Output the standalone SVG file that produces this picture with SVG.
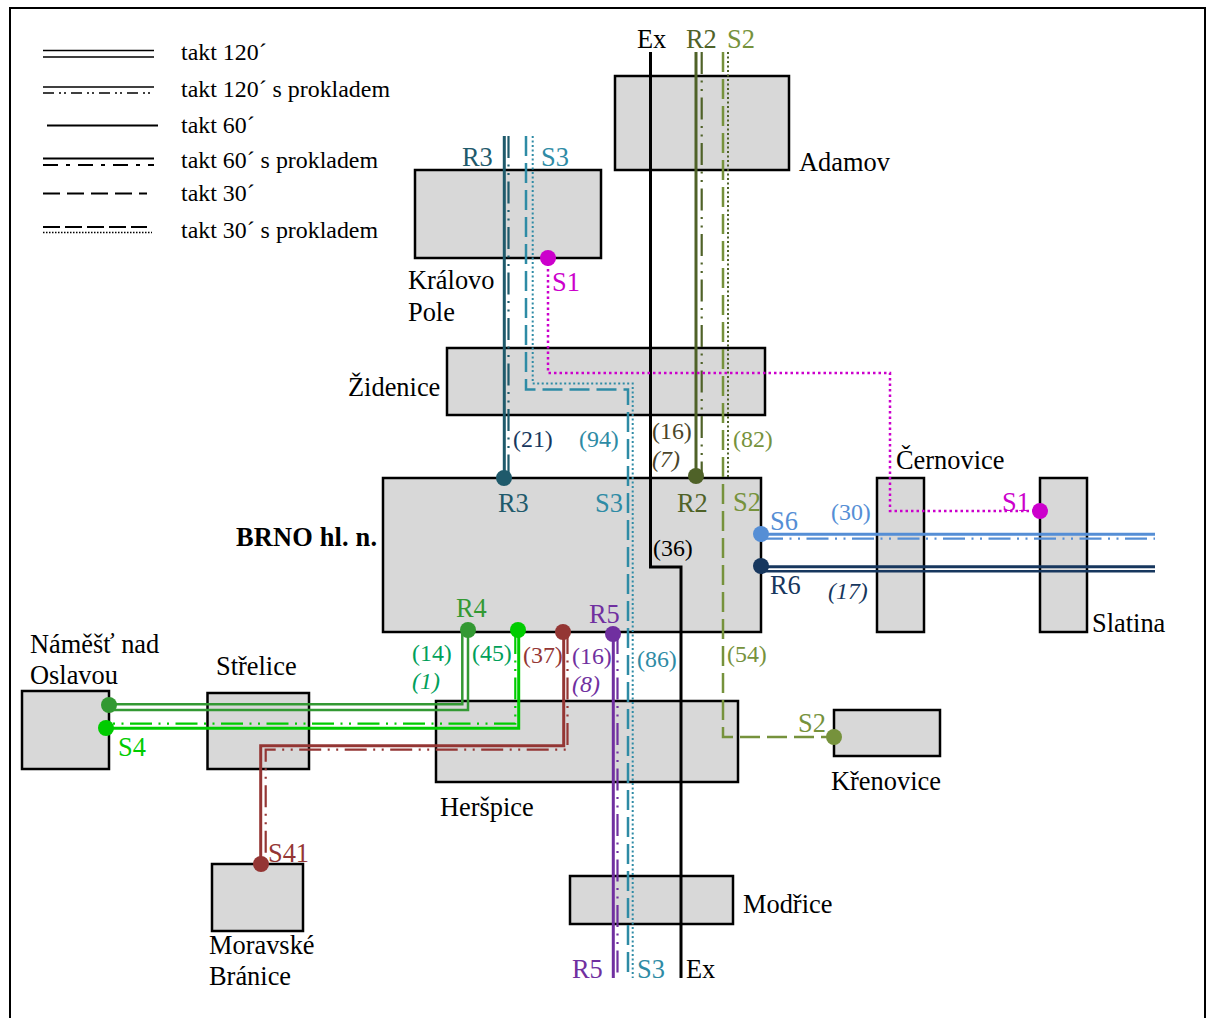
<svg xmlns="http://www.w3.org/2000/svg" width="1207" height="1018" viewBox="0 0 1207 1018">
<style>
text{font-family:"Liberation Serif","Times New Roman",serif;font-size:26.400px}
.lg,.n{font-size:23.900px}
.i{font-style:italic}
.box{fill:#d8d8d8;stroke:#000;stroke-width:2.500}
.l{fill:none}
.s{stroke-width:3}
.t{stroke-width:2.500}
.da{stroke-width:2.500;stroke-dasharray:20 7}
.dd{stroke-width:2.200;stroke-dasharray:22 6.500 2 6.500 2 6.500}
.dot{stroke-width:2;stroke-dasharray:2 2.500}
.k{stroke:#000}.r3{stroke:#1f5a6b}.s3{stroke:#2e8ba5}.r2{stroke:#4f6228}.s2{stroke:#76923c}.s1{stroke:#cc00cc;stroke-width:2.500;stroke-dasharray:2.500 3}.s6{stroke:#558ed5}.r6{stroke:#17375e}.r4{stroke:#339933}.s4{stroke:#00cc00}.s41{stroke:#943634}.r5{stroke:#7030a0}
</style>
<rect id="frame" x="10" y="8" width="1195" height="1020" fill="#fff" stroke="#000" stroke-width="2"/>
<g id="node-adamov"><rect class="box" x="615" y="76" width="174" height="94"/><text x="799" y="171">Adamov</text></g>
<g id="node-kralovo-pole"><rect class="box" x="415" y="170" width="186" height="88"/><text x="408" y="289">Královo</text><text x="408" y="321">Pole</text></g>
<g id="node-zidenice"><rect class="box" x="447" y="348" width="318" height="67"/><text x="348" y="396">Židenice</text></g>
<g id="node-brno"><rect class="box" x="383" y="478" width="378" height="154"/><text x="236" y="546" font-weight="bold" textLength="141">BRNO hl. n.</text></g>
<g id="node-cernovice"><rect class="box" x="877" y="478" width="47" height="154"/><text x="896" y="469">Černovice</text></g>
<g id="node-slatina"><rect class="box" x="1040" y="478" width="47" height="154"/><text x="1092" y="632">Slatina</text></g>
<g id="node-namest"><rect class="box" x="22" y="691" width="87" height="78"/><text x="30" y="653">Náměšť nad</text><text x="30" y="684">Oslavou</text></g>
<g id="node-strelice"><rect class="box" x="207.500" y="693" width="101.500" height="76"/><text x="216" y="675">Střelice</text></g>
<g id="node-herspice"><rect class="box" x="436" y="701" width="302" height="81"/><text x="440" y="816">Heršpice</text></g>
<g id="node-krenovice"><rect class="box" x="834" y="710" width="106" height="46"/><text x="831" y="790">Křenovice</text></g>
<g id="node-modrice"><rect class="box" x="570" y="876" width="163" height="48"/><text x="743" y="913">Modřice</text></g>
<g id="node-moravske"><rect class="box" x="212" y="864" width="91" height="67"/><text x="209" y="954">Moravské</text><text x="209" y="985">Bránice</text></g>

<g id="connectors">
<path class="l s k" d="M650.500 52V567H681V978"/>
<path class="l s r2" d="M696 52V478"/>
<path class="l dd r2" d="M701.700 52V478"/>
<path class="l da s2" d="M723 52V737H834"/>
<path class="l dot r2" d="M728 52V478"/>
<path class="l s r3" d="M504.300 136V478"/>
<path class="l dd r3" d="M508.500 136V478"/>
<path class="l da s3" d="M526 136V389.500H628V978"/>
<path class="l dot s3" d="M532.700 136V383.500H632.700V978"/>
<path class="l s1" d="M548 258V373H890V511H1040"/>
<path class="l s s6" d="M761 534.300H1155"/>
<path class="l dd s6" d="M761 538.700H1155"/>
<path class="l s r6" d="M761 566.700H1155"/>
<path class="l t r6" d="M761 571.300H1155"/>
<path class="l t r4" d="M462.300 632V704.300H109"/>
<path class="l t r4" d="M468 632V710H109"/>
<path class="l dd s4" d="M515.300 632V723.700H106"/>
<path class="l s s4" d="M518.700 632V728.300H106"/>
<path class="l s s41" d="M563.700 632V745.800H260.700V864"/>
<path class="l dd s41" d="M567.500 632V749.700H265.700V864"/>
<path class="l s r5" d="M613.300 632V978"/>
<path class="l dd r5" d="M617.500 632V978"/>
</g>

<g id="stops">
<circle cx="504" cy="478" r="8" fill="#1f5a6b"/>
<circle cx="696" cy="476" r="8" fill="#4f6228"/>
<circle cx="548" cy="258" r="8" fill="#cc00cc"/>
<circle cx="1040" cy="511" r="8" fill="#cc00cc"/>
<circle cx="761" cy="534" r="8" fill="#558ed5"/>
<circle cx="761" cy="566" r="8" fill="#17375e"/>
<circle cx="468" cy="630" r="8" fill="#339933"/>
<circle cx="518" cy="630" r="8" fill="#00cc00"/>
<circle cx="563" cy="632" r="8" fill="#943634"/>
<circle cx="613" cy="634" r="8" fill="#7030a0"/>
<circle cx="109" cy="705" r="8" fill="#339933"/>
<circle cx="106" cy="728" r="8" fill="#00cc00"/>
<circle cx="261" cy="864" r="8" fill="#943634"/>
<circle cx="834" cy="737" r="8" fill="#76923c"/>
</g>

<g id="line-labels">
<text x="637" y="48">Ex</text>
<text x="686" y="48" fill="#4f6228">R2</text>
<text x="727" y="48" fill="#76923c">S2</text>
<text x="462" y="166" fill="#1f5a6b">R3</text>
<text x="541" y="166" fill="#2e8ba5">S3</text>
<text x="552" y="291" fill="#cc00cc">S1</text>
<text class="n" x="513" y="447" fill="#17375e">(21)</text>
<text class="n" x="579" y="447" fill="#2e8ba5">(94)</text>
<text class="n" x="652" y="439" fill="#4a452a">(16)</text>
<text class="n i" x="652" y="467" fill="#4a452a">(7)</text>
<text class="n" x="733" y="447" fill="#76923c">(82)</text>
<text x="498" y="512" fill="#1f5a6b">R3</text>
<text x="595" y="512" fill="#2e8ba5">S3</text>
<text x="677" y="512" fill="#4f6228">R2</text>
<text x="733" y="511" fill="#76923c">S2</text>
<text x="770" y="530" fill="#558ed5">S6</text>
<text class="n" x="831" y="520" fill="#558ed5">(30)</text>
<text x="1002" y="511" fill="#cc00cc">S1</text>
<text x="770" y="594" fill="#17375e">R6</text>
<text class="n i" x="828" y="599" fill="#17375e">(17)</text>
<text class="n" x="653" y="556">(36)</text>
<text x="456" y="617" fill="#339933">R4</text>
<text x="589" y="623" fill="#7030a0">R5</text>
<text class="n" x="412" y="661" fill="#00a05a">(14)</text>
<text class="n i" x="412" y="689" fill="#00a05a">(1)</text>
<text class="n" x="472" y="661" fill="#00a05a">(45)</text>
<text class="n" x="523" y="663" fill="#943634">(37)</text>
<text class="n" x="572" y="664" fill="#7030a0">(16)</text>
<text class="n i" x="572" y="692" fill="#7030a0">(8)</text>
<text class="n" x="637" y="667" fill="#2e8ba5">(86)</text>
<text class="n" x="727" y="662" fill="#76923c">(54)</text>
<text x="118" y="756" fill="#00cc00">S4</text>
<text x="798" y="732" fill="#76923c">S2</text>
<text x="268" y="862" fill="#943634">S41</text>
<text x="572" y="978" fill="#7030a0">R5</text>
<text x="637" y="978" fill="#2e8ba5">S3</text>
<text x="686" y="978">Ex</text>
</g>

<g id="legend">
<path class="l k" stroke-width="1.500" d="M43 50.500H154M43 57H154"/>
<text class="lg" x="181" y="60">takt 120´</text>
<path class="l k" stroke-width="1.500" d="M43 87H154"/>
<path class="l k" stroke-width="1.500" stroke-dasharray="11 5 2 3 2 5" d="M43 93H154"/>
<text class="lg" x="181" y="97">takt 120´ s prokladem</text>
<path class="l k" stroke-width="2.200" d="M47 125.500H158"/>
<text class="lg" x="181" y="133">takt 60´</text>
<path class="l k" stroke-width="2" d="M43 158.500H154"/>
<path class="l k" stroke-width="2" stroke-dasharray="15 8 4 8" d="M43 165H154"/>
<text class="lg" x="181" y="168">takt 60´ s prokladem</text>
<path class="l k" stroke-width="2" stroke-dasharray="17 7" d="M43 193.500H147"/>
<text class="lg" x="181" y="201">takt 30´</text>
<path class="l k" stroke-width="2" stroke-dasharray="17 5" d="M43 227H147"/>
<path class="l k" stroke-width="1.500" stroke-dasharray="1.500 1.500" d="M43 232.500H152"/>
<text class="lg" x="181" y="238">takt 30´ s prokladem</text>
</g>
</svg>
